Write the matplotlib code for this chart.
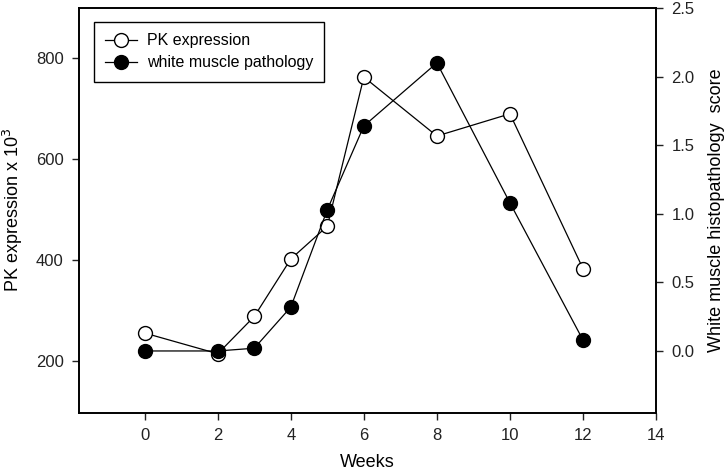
import matplotlib
matplotlib.use('Agg')
import matplotlib.pyplot as plt

plt.rcParams['font.family'] = ['Liberation Sans', 'DejaVu Sans']

weeks = [0, 2, 3, 4, 5, 6, 8, 10, 12]
pk_expr = [255, 214, 288, 402, 467, 763, 646, 690, 383]
pathology = [0.0, 0.0, 0.02, 0.32, 1.03, 1.64, 2.10, 1.08, 0.08]

fig = plt.figure(figsize=(7.27, 4.70), dpi=100)
ax = fig.add_axes([79/727, 1-412.7/470, (656-79)/727, (412.7-8)/470])
ax2 = ax.twinx()

l1, = ax.plot(weeks, pk_expr, '-o', color='black', lw=0.9, mfc='white', mec='black',
              mew=1.0, ms=10, label='PK expression')
l2, = ax2.plot(weeks, pathology, '-o', color='black', lw=0.9, mfc='black', mec='black',
               ms=10, label='white muscle pathology')

ax.set_xlim(-1.8, 14)
ax.set_xticks([0, 2, 4, 6, 8, 10, 12, 14])
ax.set_ylim(97, 900)
ax.set_yticks([200, 400, 600, 800])
ax2.set_ylim(-0.45, 2.5)
ax2.set_yticks([0.0, 0.5, 1.0, 1.5, 2.0, 2.5])
ax2.set_yticklabels(['0.0', '0.5', '1.0', '1.5', '2.0', '2.5'])

for a in (ax, ax2):
    a.tick_params(direction='out', length=5, width=1, labelsize=12, colors='#222222',
                  pad=6)
    for s in a.spines.values():
        s.set_linewidth(1.2)

ax.set_xlabel('Weeks', fontsize=13, labelpad=8)
ax.set_ylabel('PK expression x 10$^3$', fontsize=13, labelpad=8)
ax2.set_ylabel('White muscle histopathology  score', fontsize=13, labelpad=10)

leg = ax.legend(handles=[l1, l2], loc='upper left', fontsize=11.5, fancybox=False,
                edgecolor='black', framealpha=1, handlelength=2.0, handletextpad=0.6,
                bbox_to_anchor=(0.012, 0.985), borderpad=0.7, labelspacing=0.45)
leg.get_frame().set_linewidth(1.0)

fig.savefig('out.png', dpi=100)
